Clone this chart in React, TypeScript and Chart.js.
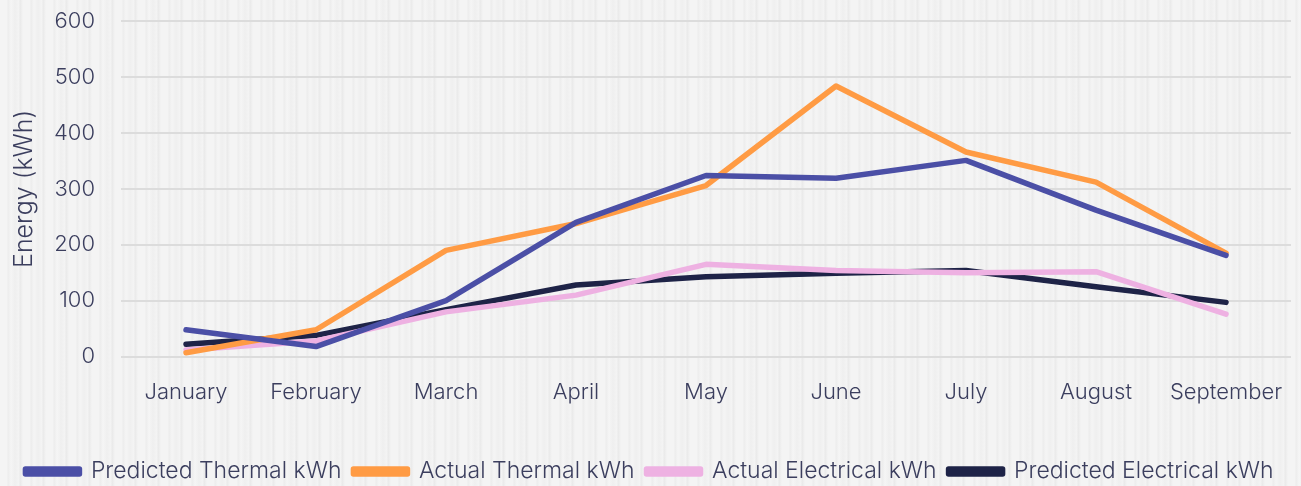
import React, { useEffect, useRef } from "react";
import { Chart, registerables } from "chart.js";

Chart.register(...registerables);

const months = ["January", "February", "March", "April", "May", "June", "July", "August", "September"];
const predictedThermal = [48, 18, 100, 240, 324, 319, 351, 262, 181];
const actualThermal = [7, 48, 190, 238, 306, 484, 366, 312, 185];
const actualElectrical = [12, 28, 80, 110, 165, 154, 150, 152, 76];
const predictedElectrical = [22, 38, 84, 128, 143, 149, 154, 125, 97];

const textColor = "#3b3e5e";
const fontFamily = "Inter, 'Noto Sans', sans-serif";

export default function App() {
  const ref = useRef<HTMLCanvasElement | null>(null);
  useEffect(() => {
    if (!ref.current) return;
    const mk = (label: string, data: number[], color: string) => ({
      label,
      data,
      borderColor: color,
      backgroundColor: color,
      borderWidth: 5.5,
      pointRadius: 0,
      pointHoverRadius: 0,
      borderCapStyle: "round" as const,
      borderJoinStyle: "round" as const,
      tension: 0,
      fill: false,
    });
    const chart = new Chart(ref.current, {
      type: "line",
      data: {
        labels: months,
        datasets: [
          mk("Predicted Thermal kWh", predictedThermal, "#4b4fa6"),
          mk("Actual Thermal kWh", actualThermal, "#ff9b44"),
          mk("Actual Electrical kWh", actualElectrical, "#eeb1e2"),
          mk("Predicted Electrical kWh", predictedElectrical, "#1e2347"),
        ],
      },
      options: {
        animation: false,
        responsive: false,
        maintainAspectRatio: false,
        layout: { padding: { top: 0, left: 8, right: 10, bottom: -7 } },
        plugins: {
          tooltip: { enabled: false },
          legend: {
            position: "bottom",
            labels: {
              color: textColor,
              font: { family: fontFamily, size: 23, weight: 300 },
              boxWidth: 54,
              boxHeight: 5,
              padding: 12,
            },
          },
        },
        scales: {
          x: {
            offset: true,
            grid: { display: false },
            border: { display: false },
            ticks: { color: textColor, font: { family: fontFamily, size: 22, weight: 300 }, padding: 15, maxRotation: 0 },
            afterFit: (scale: any) => {
              scale.height += 27;
            },
          },
          y: {
            min: 0,
            max: 600,
            ticks: { stepSize: 100, color: textColor, font: { family: fontFamily, size: 22, weight: 300 }, padding: 8 },
            grid: { color: "#dcdcdc", lineWidth: 2, drawTicks: true, tickLength: 18, tickColor: "rgba(0,0,0,0)" },
            border: { display: false },
            title: {
              display: true,
              text: "Energy (kWh)",
              color: textColor,
              font: { family: fontFamily, size: 25, weight: 300 },
              padding: { top: 1, bottom: 7 },
            },
          },
        },
      },
    });
    return () => chart.destroy();
  }, []);
  return (
    <div
      style={{
        position: "fixed",
        left: 0,
        top: 0,
        width: 1301,
        height: 486,
        background:
          "repeating-linear-gradient(90deg, #f4f4f4 0px, #f4f4f4 7px, #ececec 8px, #f5f5f5 11px, #efefef 15px, #f4f4f4 19px, #e9e9e9 20px, #f4f4f4 23px)",
      }}
    >
      <canvas ref={ref} width={1301} height={486} style={{ display: "block" }} />
    </div>
  );
}
